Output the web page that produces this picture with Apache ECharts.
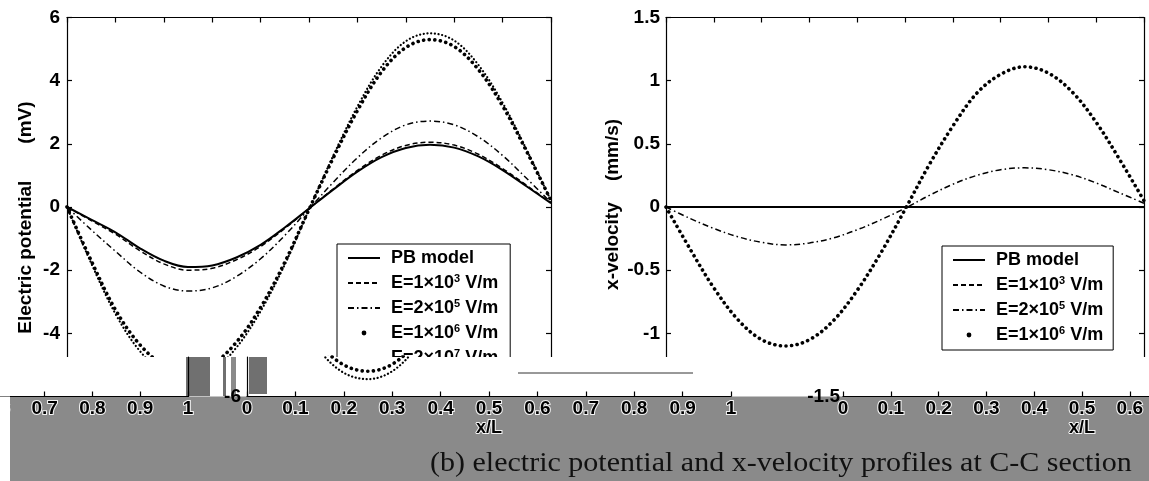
<!DOCTYPE html>
<html><head><meta charset="utf-8">
<script src="https://cdn.jsdelivr.net/npm/echarts@6/dist/echarts.min.js"></script>
<style>html,body{margin:0;padding:0;background:#fff}#c{width:1149px;height:481px}</style>
</head><body><div id="c"></div>
<script>
// ---------- data ----------
const xPos = [0,0.05,0.1,0.15,0.2,0.25,0.3,0.35,0.4,0.45,0.5,0.55,0.6,0.65,0.7,0.75,0.8,0.85,0.9,0.95,1];

// Electric potential (mV)
const potPB   = [0,-0.40,-0.80,-1.30,-1.70,-1.90,-1.85,-1.60,-1.20,-0.65,-0.05,0.55,1.12,1.58,1.87,1.97,1.88,1.60,1.17,0.65,0.12];
const potE1e3 = [0,-0.43,-0.86,-1.38,-1.80,-2.00,-1.94,-1.67,-1.25,-0.68,-0.05,0.57,1.16,1.64,1.95,2.05,1.96,1.67,1.22,0.68,0.13];
const potE2e5 = [0,-0.72,-1.40,-2.05,-2.50,-2.66,-2.56,-2.20,-1.64,-0.90,-0.06,0.78,1.56,2.19,2.60,2.72,2.60,2.22,1.63,0.90,0.14];
const potE1e6 = [0,-1.70,-3.25,-4.35,-5.00,-5.20,-4.98,-4.28,-3.18,-1.75,-0.08,1.55,3.05,4.28,5.05,5.30,5.08,4.35,3.20,1.75,0.20];
const potE2e7 = [0,-1.78,-3.38,-4.55,-5.25,-5.45,-5.20,-4.45,-3.30,-1.82,-0.08,1.62,3.18,4.45,5.25,5.50,5.27,4.50,3.30,1.80,0.20];

// x-velocity (mm/s)
const velPB   = [0,0,0,0,0,0,0,0,0,0,0,0,0,0,0,0,0,0,0,0,0];
const velE1e3 = [0,0,0,0,0,0,0,0,0,0,0,0,0,0,0,0,0,0,0,0,0];
const velE2e5 = [0,-0.09,-0.17,-0.235,-0.28,-0.30,-0.285,-0.245,-0.18,-0.10,-0.01,0.09,0.18,0.25,0.295,0.31,0.295,0.255,0.19,0.11,0.03];
const velE1e6 = [0,-0.33,-0.64,-0.89,-1.05,-1.10,-1.05,-0.90,-0.66,-0.36,-0.02,0.33,0.64,0.90,1.05,1.11,1.06,0.91,0.67,0.37,0.05];

const seriesNames = ['PB model','E=1×10³ V/m','E=2×10⁵ V/m','E=1×10⁶ V/m','E=2×10⁷ V/m'];
const potRange = [-6, 6, 2];
const velRange = [-1.5, 1.5, 0.5];
const xRange = [0, 1, 0.1];
const potTitle = 'Electric potential       (mV)    ';
const velTitle = ' x-velocity    (mm/s)';
const xTitle = 'x/L';
const caption = '(b) electric potential and x-velocity profiles at C-C section';

// ---------- chart ----------
const FONT = '"Liberation Sans", Arial, sans-serif';
const chart = echarts.init(document.getElementById('c'), null, {renderer:'canvas', width:1149, height:481});
const pair = arr => xPos.map((x, i) => [x, arr[i]]);

const LS = {
  solid:   {type:'solid', width:2},
  dashed:  {type:[5,3], width:1.5},
  dashdot: {type:[6,3,1.5,3], width:1.5},
  dotBig:  {type:[0.1,5.5], width:3.6, cap:'round'},
  dotSmall:{type:[0.1,3.6], width:2.2, cap:'round'}
};
function line(name, arr, ls, xi, yi, z) {
  return {type:'line', name, data:pair(arr), xAxisIndex:xi, yAxisIndex:yi, symbol:'none',
    smooth:0.35, clip:true, z:z || 2, silent:true, animation:false, emphasis:{disabled:true},
    lineStyle:Object.assign({color:'#000'}, ls)};
}

const axLine = {show:true, onZero:false, lineStyle:{color:'#000', width:1.2}};
const tickIn = {show:true, inside:true, length:5, lineStyle:{color:'#000', width:1.2}};
const labBold = {color:'#000', fontFamily:FONT, fontSize:19, fontWeight:'bold'};
const nameBold = {color:'#000', fontFamily:FONT, fontSize:19, fontWeight:'bold'};

function xAx(gi, pos, extra) {
  return Object.assign({type:'value', gridIndex:gi, position:pos, min:xRange[0], max:xRange[1], interval:xRange[2],
    axisLine:axLine, axisTick:tickIn, axisLabel:{show:false}, splitLine:{show:false}}, extra || {});
}
function yAx(gi, pos, min, max, interval, extra) {
  return Object.assign({type:'value', gridIndex:gi, position:pos, min, max, interval,
    axisLine:axLine, axisTick:tickIn, axisLabel:{show:false}, splitLine:{show:false}}, extra || {});
}

const bandLabel = Object.assign({show:true, margin:3, textBorderColor:'rgba(255,255,255,0.9)', textBorderWidth:2}, labBold);
const bandName = Object.assign({textBorderColor:'rgba(255,255,255,0.9)', textBorderWidth:2}, labBold, {fontSize:18});

const stripH = 39.5;
const potStripMax = potRange[0] + stripH / (379 / (potRange[1] - potRange[0]));
const velStripMax = velRange[0] + stripH / (379 / (velRange[1] - velRange[0]));

const fmt = n => n.replace(/([³⁵⁶⁷])/g, m => '{sup|' + ({'³':'3','⁵':'5','⁶':'6','⁷':'7'})[m] + '}');
const legendBase = {
  orient:'vertical', itemGap:5, itemWidth:32, itemHeight:6, selectedMode:false,
  backgroundColor:'#fff', borderColor:'#000', borderWidth:1, borderRadius:0,
  itemStyle:{opacity:0}, formatter:fmt,
  textStyle:{color:'#000', fontFamily:FONT, fontSize:18, fontWeight:'bold', lineHeight:20, padding:[0,0,0,6],
    rich:{sup:{color:'#000', fontFamily:FONT, fontSize:11, fontWeight:'bold', verticalAlign:'top', lineHeight:11}}}
};
const dotItem = name => ({name, itemStyle:{opacity:1, color:'#000'}, lineStyle:{opacity:0}});

const option = {
  animation:false,
  backgroundColor:'#fff',
  grid:[
    {left:67,  top:17.5, width:484, height:379, outerBoundsMode:'none'},
    {left:666, top:17.5, width:478, height:379, outerBoundsMode:'none'},
    {left:247, top:357, width:484, height:stripH, outerBoundsMode:'none'},
    {left:843, top:357, width:478, height:stripH, outerBoundsMode:'none'},
    {left:-290, top:357, width:478, height:stripH, outerBoundsMode:'none'}
  ],
  xAxis:[
    xAx(0,'bottom'), xAx(0,'top'),
    xAx(1,'bottom'), xAx(1,'top'),
    xAx(2,'bottom',{z:60, axisLabel:bandLabel, name:xTitle, nameLocation:'middle', nameGap:23, nameTextStyle:bandName, nameMoveOverlap:false}),
    xAx(3,'bottom',{z:60, axisLabel:bandLabel, name:xTitle, nameLocation:'middle', nameGap:23, nameTextStyle:bandName, nameMoveOverlap:false}),
    xAx(4,'bottom',{z:60, axisLabel:bandLabel})
  ],
  yAxis:[
    yAx(0,'left', potRange[0], potRange[1], potRange[2], {axisLabel:Object.assign({show:true, margin:7}, labBold),
      name:potTitle, nameLocation:'middle', nameGap:32, nameTextStyle:nameBold, nameMoveOverlap:false}),
    yAx(0,'right', potRange[0], potRange[1], potRange[2]),
    yAx(1,'left', velRange[0], velRange[1], velRange[2], {axisLabel:Object.assign({show:true, margin:6}, labBold),
      name:velTitle, nameLocation:'middle', nameGap:44, nameTextStyle:nameBold, nameMoveOverlap:false}),
    yAx(1,'right', velRange[0], velRange[1], velRange[2]),
    yAx(2,'left', potRange[0], potStripMax, potRange[2], {z:60, axisTick:{show:false},
      axisLabel:Object.assign({show:true, margin:6, showMaxLabel:false}, labBold)}),
    yAx(3,'left', velRange[0], velStripMax, velRange[2], {z:60, axisTick:{show:false}, axisLine:{show:false, onZero:false},
      axisLabel:Object.assign({show:true, margin:3, showMaxLabel:false}, labBold)}),
    yAx(4,'right', velRange[0], velStripMax, velRange[2], {z:60, axisTick:{show:false}})
  ],
  legend:[
    Object.assign({}, legendBase, {left:337, top:244, padding:[4,12,5,10],
      data:[seriesNames[0], seriesNames[1], seriesNames[2], dotItem(seriesNames[3]), seriesNames[4]]}),
    Object.assign({}, legendBase, {left:942, top:246, padding:[4,10,5,10],
      data:[seriesNames[0], seriesNames[1], seriesNames[2], dotItem(seriesNames[3])]})
  ],
  series:[
    line(seriesNames[1], potE1e3, LS.dashed, 0, 0),
    line(seriesNames[0], potPB, LS.solid, 0, 0),
    line(seriesNames[2], potE2e5, LS.dashdot, 0, 0),
    line(seriesNames[3], potE1e6, LS.dotBig, 0, 0),
    line(seriesNames[4], potE2e7, LS.dotSmall, 0, 0),
    line(seriesNames[1], velE1e3, LS.dashed, 2, 2),
    line(seriesNames[0], velPB, LS.solid, 2, 2),
    line(seriesNames[2], velE2e5, LS.dashdot, 2, 2),
    line(seriesNames[3], velE1e6, LS.dotBig, 2, 2),
    // strip copy of the lower part of the left panel (shifted in the picture)
    line(seriesNames[3], potE1e6, LS.dotBig, 4, 4, 60),
    line(seriesNames[4], potE2e7, LS.dotSmall, 4, 4, 60)
  ],
  graphic:[
    {type:'rect', silent:true, z:50, shape:{x:0, y:357, width:1149, height:41}, style:{fill:'#fff'}},
    {type:'rect', silent:true, z:51, shape:{x:10, y:396.5, width:1139, height:85}, style:{fill:'#8a8a8a'}},
    {type:'rect', silent:true, z:65, shape:{x:0, y:396.5, width:10, height:85}, style:{fill:'#fff'}},
    {type:'rect', silent:true, z:55, shape:{x:186, y:357, width:24, height:39}, style:{fill:'#707070'}},
    {type:'rect', silent:true, z:55, shape:{x:223, y:357, width:3, height:39}, style:{fill:'#707070'}},
    {type:'rect', silent:true, z:55, shape:{x:231, y:357, width:5, height:39}, style:{fill:'#8a8a8a'}},
    {type:'rect', silent:true, z:55, shape:{x:249, y:357, width:18, height:37}, style:{fill:'#707070'}},
    {type:'line', silent:true, z:55, shape:{x1:518, y1:373, x2:693, y2:373}, style:{stroke:'#333', lineWidth:1}},
    {type:'text', silent:true, z:70, x:430, y:464, scaleX:1.072, originX:0,
      style:{text:caption, x:0, y:0, verticalAlign:'middle',
      font:'28px "Liberation Serif", "Times New Roman", serif', fill:'#111'}}
  ]
};
chart.setOption(option);
</script>
</body></html>
